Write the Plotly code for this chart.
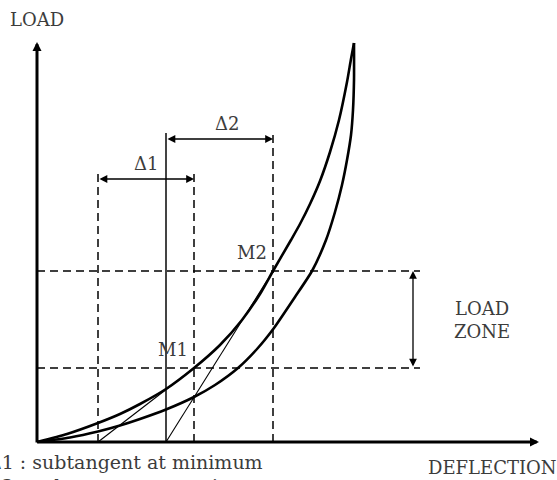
import plotly.graph_objects as go

# Load-deflection loop (deflection, load) in drawing units, origin at the axes corner
upper_defl = [0, 30, 61, 83, 103, 129, 157, 183, 205, 223, 236, 254, 263, 273, 283, 293, 302, 310, 314, 317]
upper_load = [0, 8, 19, 28, 38, 53, 74, 97, 122, 148, 171, 202, 218, 238, 261, 290, 322, 360, 383, 399]

lower_defl = [0, 33, 61, 83, 103, 129, 157, 178, 201, 220, 237, 258, 275, 289, 298, 305, 310, 314, 316, 317, 317]
lower_load = [0, 4.5, 10.5, 16.5, 23, 32.5, 45, 57, 74, 93, 114, 145, 171, 202, 230, 257, 282, 307, 332, 362, 399]

# Points M1 (minimum of load zone) and M2 (maximum of load zone)
m_labels = ["M1", "M2"]
m_defl = [157, 236]
m_load = [74, 171]

# Foot of each tangent on the deflection axis
tangent_foot = [61, 129]

# Axis extents
defl_max = 502
load_max = 400

# Heights of the subtangent dimension lines
delta_level = [263, 303]
delta_labels = ["Δ1", "Δ2"]
zone_defl = 376
guide_end = 383

notes = ["Δ1 : subtangent at minimum", "Δ2 : subtangent at maximum"]

FONT = "DejaVu Serif"
TXT = "#3c3c3c"
FS = 18
W, H = 557, 480

fig = go.Figure()

dash_style = dict(color="black", width=1.5, dash="8px,5px")

# horizontal guides through M1 and M2
for ld in m_load:
    fig.add_trace(go.Scatter(x=[0, guide_end], y=[ld, ld], mode="lines",
                             line=dash_style, hoverinfo="skip"))

# vertical guides: tangent foot of M1, M1, M2
for xd, top in [(tangent_foot[0], delta_level[0] + 6),
                (m_defl[0], delta_level[0] + 6),
                (m_defl[1], delta_level[1] + 6)]:
    fig.add_trace(go.Scatter(x=[xd, xd], y=[0, top], mode="lines",
                             line=dash_style, hoverinfo="skip"))

# solid vertical at the foot of the M2 tangent
fig.add_trace(go.Scatter(x=[tangent_foot[1], tangent_foot[1]], y=[0, delta_level[1] + 6],
                         mode="lines", line=dict(color="#444", width=2), hoverinfo="skip"))

# tangents at M1 and M2
for foot, xd, ld in zip(tangent_foot, m_defl, m_load):
    fig.add_trace(go.Scatter(x=[foot, xd], y=[0, ld], mode="lines",
                             line=dict(color="black", width=1.1), hoverinfo="skip"))

# loading / unloading curves
for xs, ys in [(upper_defl, upper_load), (lower_defl, lower_load)]:
    fig.add_trace(go.Scatter(x=xs, y=ys, mode="lines",
                             line=dict(color="black", width=2.6, shape="spline", smoothing=0.6),
                             hoverinfo="skip"))

ann = []

# axes with arrowheads
ann.append(dict(x=defl_max, y=0, ax=-1, ay=0, xref="x", yref="y", axref="x", ayref="y",
                text="", showarrow=True, arrowhead=2, arrowsize=0.6, arrowwidth=3,
                arrowcolor="black"))
ann.append(dict(x=0, y=load_max, ax=0, ay=-2, xref="x", yref="y", axref="x", ayref="y",
                text="", showarrow=True, arrowhead=2, arrowsize=0.6, arrowwidth=3,
                arrowcolor="black"))

# subtangent dimension arrows
for s, e, lv, lab, dx in zip(tangent_foot, m_defl, delta_level, delta_labels, [0, 7]):
    ann.append(dict(x=e, y=lv, ax=s, ay=lv, xref="x", yref="y", axref="x", ayref="y",
                    text="", showarrow=True, arrowhead=2, arrowsize=1.2, arrowwidth=1.3,
                    arrowside="end+start", startarrowhead=2, startarrowsize=1.2,
                    arrowcolor="black"))
    ann.append(dict(x=(s + e) / 2 + dx, y=lv + 16, xref="x", yref="y", text=lab,
                    showarrow=False, font=dict(family=FONT, size=FS, color=TXT)))

# load zone arrow
ann.append(dict(x=zone_defl, y=m_load[1], ax=zone_defl, ay=m_load[0],
                xref="x", yref="y", axref="x", ayref="y",
                text="", showarrow=True, arrowhead=2, arrowsize=1.2, arrowwidth=1.3,
                arrowside="end+start", startarrowhead=2, startarrowsize=1.2,
                arrowcolor="black"))
ann.append(dict(x=zone_defl + 69, y=(m_load[0] + m_load[1]) / 2, xref="x", yref="y",
                text="LOAD<br>ZONE", showarrow=False, align="center",
                font=dict(family=FONT, size=FS, color=TXT)))

# point labels
for lab, xd, ld in zip(m_labels, m_defl, m_load):
    ann.append(dict(x=xd - 4, y=ld + 6, xref="x", yref="y", text=lab, showarrow=False,
                    xanchor="right", yanchor="bottom",
                    font=dict(family=FONT, size=FS, color=TXT)))

# axis titles
ann.append(dict(x=0, y=423, xref="x", yref="y", text="LOAD", showarrow=False,
                font=dict(family=FONT, size=FS, color=TXT)))
ann.append(dict(x=455, y=-25, xref="x", yref="y", text="DEFLECTION", showarrow=False,
                font=dict(family=FONT, size=FS, color=TXT)))

# notes under the chart (paper coordinates, running past the page edge)
for i, note in enumerate(notes):
    ann.append(dict(x=-14.5 / W, y=1 - (462 + 24 * i) / H, xref="paper", yref="paper",
                    text=note, showarrow=False, xanchor="left", yanchor="middle",
                    font=dict(family=FONT, size=19, color=TXT)))

fig.update_layout(
    width=W, height=H,
    margin=dict(l=0, r=0, t=0, b=0),
    paper_bgcolor="white", plot_bgcolor="white",
    showlegend=False,
    annotations=ann,
    xaxis=dict(range=[-37, 520], visible=False, fixedrange=True),
    yaxis=dict(range=[-38, 442], visible=False, fixedrange=True),
)

fig.write_html("out.html")
